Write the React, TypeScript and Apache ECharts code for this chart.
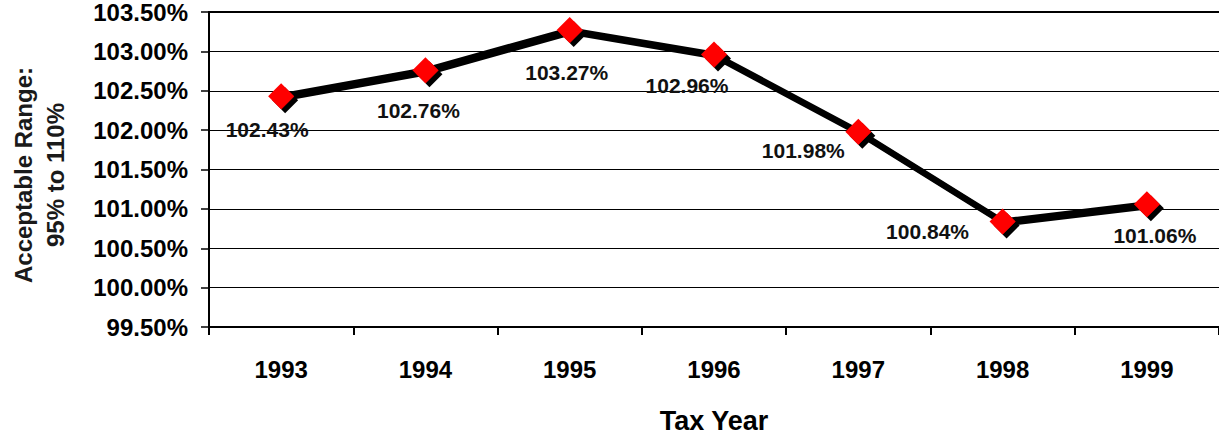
import React, { useEffect, useRef } from "react";
import * as echarts from "echarts";

const CATEGORIES = ["1993", "1994", "1995", "1996", "1997", "1998", "1999"];
const VALUES = [102.43, 102.76, 103.27, 102.96, 101.98, 100.84, 101.06];
const Y_MIN = 99.5;
const Y_MAX = 103.5;
const Y_STEP = 0.5;
const X_TITLE = "Tax Year";
const Y_TITLE_LINES = ["Acceptable Range:", "95% to 110%"];

// label offsets (style only): [dx, dy] from the marker centre
const LABEL_OFFSETS: [number, number][] = [
  [-14, 33],
  [-7, 40],
  [-3, 42],
  [-27, 31],
  [-55, 19],
  [-75, 10],
  [8, 31],
];

const FONT = "'Liberation Sans', Arial, sans-serif";

export default function App() {
  const ref = useRef<HTMLDivElement>(null);
  useEffect(() => {
    if (!ref.current) return;
    const chart = echarts.init(ref.current, null, { renderer: "svg" });
    chart.setOption({
      animation: false,
      backgroundColor: "#ffffff",
      grid: { left: 209, right: -1, top: 12, bottom: 111, containLabel: false },
      xAxis: [
        {
          type: "category",
          data: CATEGORIES,
          boundaryGap: true,
          position: "bottom",
          name: X_TITLE,
          nameLocation: "middle",
          nameGap: 80,
          nameTextStyle: { fontFamily: FONT, fontWeight: "bold", fontSize: 27, color: "#000" },
          axisLine: { show: true, lineStyle: { color: "#000", width: 2 } },
          axisTick: { show: true, length: 8, lineStyle: { color: "#000", width: 2 } },
          axisLabel: { fontFamily: FONT, fontWeight: "bold", fontSize: 24, color: "#000", margin: 30 },
          splitLine: { show: false },
        },
        {
          type: "category",
          data: CATEGORIES,
          position: "top",
          axisLine: { show: true, lineStyle: { color: "#000", width: 2 } },
          axisTick: { show: false },
          axisLabel: { show: false },
          splitLine: { show: false },
        },
      ],
      yAxis: {
        type: "value",
        min: Y_MIN,
        max: Y_MAX,
        interval: Y_STEP,
        axisLine: { show: true, lineStyle: { color: "#000", width: 2 } },
        axisTick: { show: true, length: 8, lineStyle: { color: "#000", width: 1.5 } },
        axisLabel: {
          fontFamily: FONT,
          fontWeight: "bold",
          fontSize: 24,
          color: "#000",
          margin: 21,
          formatter: (v: number) => v.toFixed(2) + "%",
        },
        splitLine: { show: true, lineStyle: { color: "#000", width: 1 } },
      },
      graphic: [
        {
          type: "text",
          x: 39,
          y: 175,
          rotation: Math.PI / 2,
          style: {
            text: Y_TITLE_LINES.join("\n"),
            fontFamily: FONT,
            fontWeight: "bold",
            fontSize: 24,
            lineHeight: 32,
            fill: "#1a1a1a",
            textAlign: "center",
            textVerticalAlign: "middle",
          },
        },
      ],
      series: [
        {
          type: "line",
          xAxisIndex: 0,
          data: VALUES.map((v, i) => ({
            value: v,
            label: { offset: LABEL_OFFSETS[i] },
          })),
          lineStyle: {
            color: "#000",
            width: 6,
            shadowColor: "#000",
            shadowOffsetX: 2,
            shadowOffsetY: 2,
            shadowBlur: 0,
          },
          symbol: "diamond",
          symbolSize: 26,
          itemStyle: {
            color: "#ff0000",
            borderWidth: 0,
            shadowColor: "#000",
            shadowOffsetX: 4,
            shadowOffsetY: 4,
            shadowBlur: 0,
          },
          label: {
            show: true,
            position: "inside",
            fontFamily: FONT,
            fontWeight: "bold",
            fontSize: 21,
            color: "#111",
            formatter: (p: any) => p.value.toFixed(2) + "%",
          },
          z: 3,
        },
      ],
    });
    return () => chart.dispose();
  }, []);
  return (
    <div
      ref={ref}
      style={{ position: "fixed", left: 0, top: 0, width: 1219, height: 439 }}
    />
  );
}
